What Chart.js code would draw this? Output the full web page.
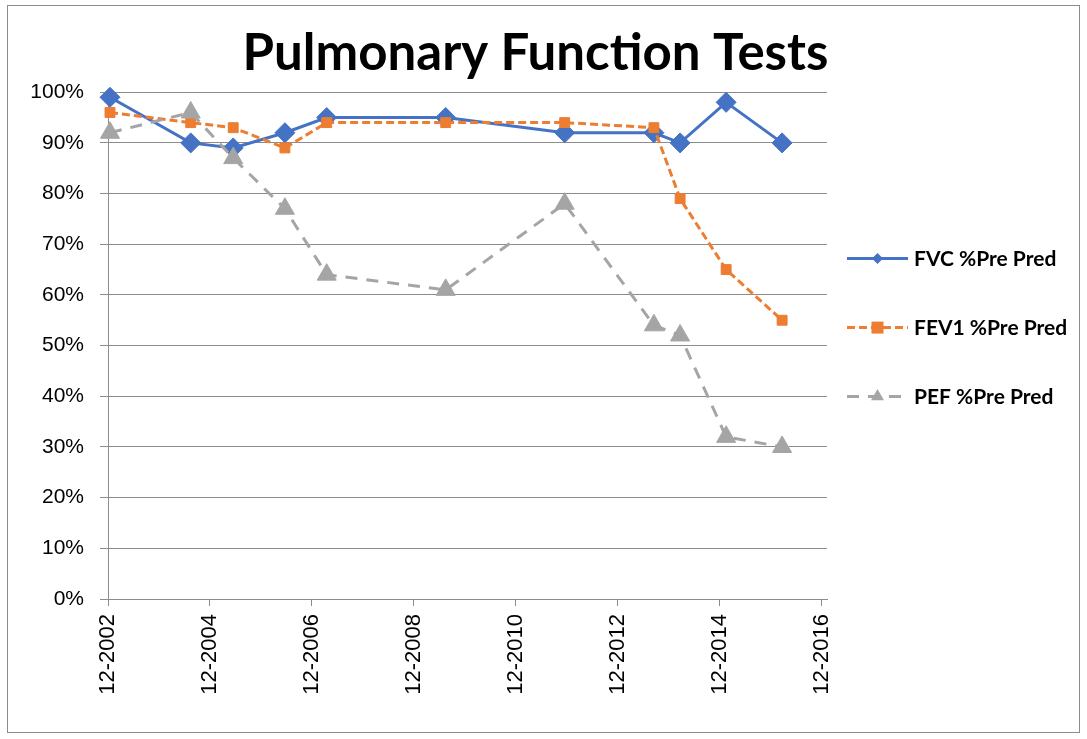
<!DOCTYPE html>
<html>
<head>
<meta charset="utf-8">
<script src="https://cdn.jsdelivr.net/npm/chart.js@4.4.1/dist/chart.umd.min.js"></script>
<style>
  body { margin: 0; background: #fff; }
  #wrap { position: relative; width: 1087px; height: 739px; }
  #frame { position: absolute; left: 7px; top: 5px; width: 1071px; height: 726px; border: 1px solid #8c8c8c; pointer-events: none; }
</style>
</head>
<body>
<div id="wrap">
  <canvas id="pft"></canvas>
  <div id="frame"></div>
</div>
<script>
// visit dates (yyyy-mm-dd) and the three % predicted series
const visitDates = ['2002-12-15', '2004-07-15', '2005-05-15', '2006-05-20', '2007-03-15', '2009-07-15',
                    '2011-11-15', '2013-08-15', '2014-02-20', '2015-01-15', '2016-02-20'];
const fvcPct  = [99, 90, 89, 92, 95, 95, 92, 92, 90, 98, 90];
const fev1Pct = [96, 94, 93, 89, 94, 94, 94, 93, 79, 65, 55];
const pefPct  = [92, 96, 87, 77, 64, 61, 78, 54, 52, 32, 30];
const seriesNames = ['FVC %Pre Pred', 'FEV1 %Pre Pred', 'PEF %Pre Pred'];
const yTicks = [0, 10, 20, 30, 40, 50, 60, 70, 80, 90, 100];
const xTickYears = [2002, 2004, 2006, 2008, 2010, 2012, 2014, 2016];

// x axis counts months from 12-2002
function monthsFrom(d) {
  const [y, m, day] = d.split('-').map(Number);
  return (y - 2002) * 12 + (m - 12) + (day - 1) / 30;
}
function pts(vals) {
  return vals.map((v, i) => ({ x: monthsFrom(visitDates[i]), y: v }));
}

const gridGray = '#8c8c8c';

// legend on the right: line sample with its marker, then the name
const sideLegend = {
  id: 'sideLegend',
  afterDraw(chart) {
    const ctx = chart.ctx;
    const area = chart.chartArea;
    const x0 = area.right + 20;
    const len = 61;
    const midY = area.top + area.height / 2 - 18;
    chart.data.datasets.forEach((ds, i) => {
      const y = midY + (i - 1) * 69;
      ctx.save();
      ctx.strokeStyle = ds.borderColor;
      ctx.lineWidth = ds.borderWidth;
      ctx.setLineDash(ds.borderDash || []);
      ctx.beginPath();
      ctx.moveTo(x0, y);
      ctx.lineTo(x0 + len, y);
      ctx.stroke();
      ctx.setLineDash([]);
      ctx.fillStyle = ds.pointBackgroundColor;
      const cx = x0 + len / 2;
      ctx.beginPath();
      if (ds.pointStyle === 'rectRot') {
        const r = 5.5;
        ctx.moveTo(cx - r, y); ctx.lineTo(cx, y - r); ctx.lineTo(cx + r, y); ctx.lineTo(cx, y + r);
      } else if (ds.pointStyle === 'rect') {
        ctx.rect(cx - 6, y - 6, 12, 12);
      } else {
        const r = 7.5;
        ctx.moveTo(cx, y - r);
        ctx.lineTo(cx + r * 0.866, y + r * 0.5);
        ctx.lineTo(cx - r * 0.866, y + r * 0.5);
      }
      ctx.closePath();
      ctx.fill();
      ctx.fillStyle = '#000';
      ctx.font = 'bold 21px Lato';
      ctx.textBaseline = 'middle';
      ctx.textAlign = 'left';
      ctx.fillText(ds.label, x0 + len + 6, y + 1);
      ctx.restore();
    });
  }
};

const ctx = document.getElementById('pft').getContext('2d');
const pftChart = new Chart(ctx, {
  type: 'line',
  data: {
    datasets: [{
      label: seriesNames[0],
      data: pts(fvcPct),
      borderColor: '#4472C4',
      backgroundColor: '#4472C4',
      pointBackgroundColor: '#4472C4',
      pointBorderColor: '#4472C4',
      borderWidth: 3,
      pointStyle: 'rectRot',
      pointRadius: 10,
      pointBorderWidth: 1,
      order: 3,
      clip: false
    }, {
      label: seriesNames[1],
      data: pts(fev1Pct),
      borderColor: '#ED7D31',
      backgroundColor: '#ED7D31',
      pointBackgroundColor: '#ED7D31',
      pointBorderColor: '#ED7D31',
      borderWidth: 3,
      borderDash: [8, 4],
      pointStyle: 'rect',
      pointRadius: 7,
      pointBorderWidth: 1,
      order: 2,
      clip: false
    }, {
      label: seriesNames[2],
      data: pts(pefPct),
      borderColor: '#A5A5A5',
      backgroundColor: '#A5A5A5',
      pointBackgroundColor: '#A5A5A5',
      pointBorderColor: '#A5A5A5',
      borderWidth: 3,
      borderDash: [12, 9],
      pointStyle: 'triangle',
      pointRadius: 11,
      pointBorderWidth: 1,
      order: 1,
      clip: false
    }]
  },
  options: {
    responsive: true,
    maintainAspectRatio: false,
    animation: false,
    layout: { padding: { left: 0, right: 16, top: 0, bottom: 0 } },
    plugins: {
      legend: { display: false },
      tooltip: { enabled: false },
      title: {
        display: true,
        text: 'Pulmonary Function Tests',
        color: '#000',
        font: { family: 'Lato', size: 51, weight: 'bold', lineHeight: 1.2 },
        padding: { top: 23, bottom: 8 }
      }
    },
    scales: {
      x: {
        type: 'linear',
        min: 0,
        max: 169.2,
        afterBuildTicks: s => { s.ticks = xTickYears.map(y => ({ value: (y - 2002) * 12 })); },
        afterFit: s => { s.height = 140; },
        ticks: {
          minRotation: 90,
          maxRotation: 90,
          padding: 8,
          color: '#000',
          font: { family: 'Liberation Sans', size: 22 },
          callback: v => '12-' + (2002 + v / 12)
        },
        grid: { drawOnChartArea: false, tickLength: 7, color: gridGray },
        border: { display: true, color: gridGray }
      },
      y: {
        min: 0,
        max: 100,
        afterBuildTicks: s => { s.ticks = yTicks.map(v => ({ value: v })); },
        afterFit: s => { s.width = 108; },
        ticks: {
          padding: 16,
          color: '#000',
          font: { family: 'Liberation Sans', size: 21 },
          callback: v => v + '%'
        },
        grid: { color: gridGray, tickLength: 8 },
        border: { display: true, color: gridGray }
      },
      legendSpace: {
        type: 'linear',
        position: 'right',
        display: true,
        afterFit: s => { s.width = 244; },
        ticks: { display: false },
        grid: { display: false },
        border: { display: false }
      }
    }
  },
  plugins: [sideLegend]
});
</script>
</body>
</html>
